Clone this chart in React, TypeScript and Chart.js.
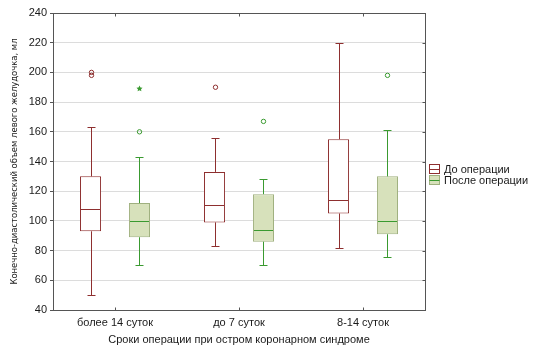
import React, { useEffect, useRef } from "react";
import { Chart, registerables } from "chart.js";

Chart.register(...registerables);

const categories = ["более 14 суток", "до 7 суток", "8-14 суток"];
const seriesNames = ["До операции", "После операции"];

const beforeMin = [50, 83, 82];
const beforeQ1 = [93, 99, 105];
const beforeMedian = [108, 111, 114];
const beforeQ3 = [130, 133, 155];
const beforeMax = [163, 156, 220];
const beforeOutliers = [[198, 200], [190], []];
const beforeExtremes: number[][] = [[], [], []];

const afterMin = [70, 70, 76];
const afterQ1 = [89, 86, 91];
const afterMedian = [100, 94, 100];
const afterQ3 = [112, 118, 130];
const afterMax = [143, 128, 161];
const afterOutliers = [[160], [167], [198]];
const afterExtremes = [[189], [], []];

const yTicks = [40, 60, 80, 100, 120, 140, 160, 180, 200, 220, 240];

const FONT = "'Liberation Sans', Arial, sans-serif";
const NARROW = "'DejaVu Sans Condensed', 'Liberation Sans', sans-serif";
const BEFORE_LINE = "#8e2f2f";
const AFTER_LINE = "#3a9a30";
const AFTER_FILL = "#d7e1bb";
const AFTER_BORDER = "#9fb07f";
const AXIS = "#555555";

const stats = [
  { min: beforeMin, med: beforeMedian, max: beforeMax, out: beforeOutliers, ext: beforeExtremes, line: BEFORE_LINE },
  { min: afterMin, med: afterMedian, max: afterMax, out: afterOutliers, ext: afterExtremes, line: AFTER_LINE },
];

const boxPlugin = {
  id: "boxExtras",
  afterDatasetsDraw(chart: any) {
    const ctx = chart.ctx;
    const y = chart.scales.y;
    ctx.save();
    stats.forEach((s, di) => {
      const meta = chart.getDatasetMeta(di);
      meta.data.forEach((bar: any, j: number) => {
        const x = Math.round(bar.x) + 0.5;
        const half = bar.width / 2;
        const q1 = chart.data.datasets[di].data[j][0];
        const q3 = chart.data.datasets[di].data[j][1];
        ctx.strokeStyle = s.line;
        ctx.lineWidth = 1;
        const cap = 4;
        const yMax = Math.round(y.getPixelForValue(s.max[j])) + 0.5;
        const yMin = Math.round(y.getPixelForValue(s.min[j])) + 0.5;
        ctx.beginPath();
        ctx.moveTo(x, y.getPixelForValue(q3));
        ctx.lineTo(x, yMax);
        ctx.moveTo(x - cap, yMax);
        ctx.lineTo(x + cap, yMax);
        ctx.moveTo(x, y.getPixelForValue(q1));
        ctx.lineTo(x, yMin);
        ctx.moveTo(x - cap, yMin);
        ctx.lineTo(x + cap, yMin);
        ctx.stroke();
        const yMed = Math.round(y.getPixelForValue(s.med[j])) + 0.5;
        ctx.beginPath();
        ctx.moveTo(bar.x - half + 1, yMed);
        ctx.lineTo(bar.x + half - 1, yMed);
        ctx.stroke();
        s.out[j].forEach((v: number) => {
          ctx.beginPath();
          ctx.arc(x, y.getPixelForValue(v), 2.2, 0, Math.PI * 2);
          ctx.stroke();
        });
        s.ext[j].forEach((v: number) => {
          const yy = y.getPixelForValue(v);
          ctx.fillStyle = s.line;
          ctx.beginPath();
          for (let k = 0; k < 10; k++) {
            const r = k % 2 === 0 ? 3.2 : 1.6;
            const a = -Math.PI / 2 + (k * Math.PI) / 5;
            const px = x + r * Math.cos(a);
            const py = yy + r * Math.sin(a);
            if (k === 0) ctx.moveTo(px, py);
            else ctx.lineTo(px, py);
          }
          ctx.closePath();
          ctx.fill();
        });
      });
    });
    ctx.restore();
  },
  afterDraw(chart: any) {
    const ctx = chart.ctx;
    const a = chart.chartArea;
    const x = chart.scales.x;
    const y = chart.scales.y;
    ctx.save();
    ctx.strokeStyle = AXIS;
    ctx.lineWidth = 1;
    const l = Math.round(a.left) + 0.5;
    const r = Math.round(a.right) + 0.5;
    const t = Math.round(a.top) + 0.5;
    const b = Math.round(a.bottom) + 0.5;
    ctx.strokeRect(l, t, r - l, b - t);
    ctx.beginPath();
    categories.forEach((_, i) => {
      const px = Math.round(x.getPixelForValue(i)) + 0.5;
      ctx.moveTo(px, t);
      ctx.lineTo(px, t + 3);
      ctx.moveTo(px, b);
      ctx.lineTo(px, b - 3);
    });
    yTicks.forEach((v) => {
      const py = Math.round(y.getPixelForValue(v)) + 0.5;
      ctx.moveTo(r, py);
      ctx.lineTo(r - 3, py);
    });
    ctx.stroke();

    const lx = a.right + 4;
    const rows = [
      { y: 169, line: BEFORE_LINE, fill: "#ffffff", border: BEFORE_LINE },
      { y: 180, line: AFTER_LINE, fill: AFTER_FILL, border: AFTER_BORDER },
    ];
    ctx.font = `11px ${FONT}`;
    ctx.textBaseline = "middle";
    ctx.textAlign = "left";
    rows.forEach((row, i) => {
      const bx = Math.round(lx) + 0.5;
      const by = row.y - 4.5;
      ctx.fillStyle = row.fill;
      ctx.fillRect(bx, by, 10, 9);
      ctx.strokeStyle = row.border;
      ctx.strokeRect(bx, by, 10, 9);
      ctx.strokeStyle = row.line;
      ctx.beginPath();
      ctx.moveTo(bx, row.y + 0.5);
      ctx.lineTo(bx + 10, row.y + 0.5);
      ctx.stroke();
      ctx.fillStyle = "#1a1a1a";
      ctx.fillText(seriesNames[i], lx + 15, row.y + 1);
    });
    ctx.restore();
  },
};

export default function App() {
  const ref = useRef<HTMLCanvasElement | null>(null);
  useEffect(() => {
    document.body.style.margin = "0";
    const canvas = ref.current;
    if (!canvas) return;
    const chart = new Chart(canvas, {
      type: "bar",
      data: {
        labels: categories,
        datasets: [
          {
            label: seriesNames[0],
            data: beforeQ1.map((v, i) => [v, beforeQ3[i]]) as any,
            backgroundColor: "#ffffff",
            borderColor: BEFORE_LINE,
            borderWidth: 1,
            borderSkipped: false,
          },
          {
            label: seriesNames[1],
            data: afterQ1.map((v, i) => [v, afterQ3[i]]) as any,
            backgroundColor: AFTER_FILL,
            borderColor: AFTER_BORDER,
            borderWidth: 1,
            borderSkipped: false,
          },
        ],
      },
      options: {
        responsive: false,
        animation: false,
        events: [],
        datasets: { bar: { categoryPercentage: 0.79, barPercentage: 0.43 } } as any,
        layout: { padding: { left: 0, right: 114, top: 13, bottom: 0 } },
        plugins: {
          legend: { display: false },
          tooltip: { enabled: false },
        },
        scales: {
          x: {
            grid: { display: false, drawTicks: false },
            border: { display: false },
            ticks: { color: "#1a1a1a", font: { family: FONT, size: 11 }, padding: 6 },
            title: {
              display: true,
              text: "Сроки операции при остром коронарном синдроме",
              color: "#1a1a1a",
              font: { family: FONT, size: 11 },
              padding: { top: 2, bottom: 4 },
            },
            afterFit(scale: any) {
              scale.height = 41;
            },
          },
          y: {
            min: 40,
            max: 240,
            afterBuildTicks(scale: any) {
              scale.ticks = yTicks.map((v) => ({ value: v }));
            },
            grid: { color: "#dcdcdc", tickColor: AXIS, tickLength: 3 },
            border: { color: AXIS },
            ticks: { color: "#1a1a1a", font: { family: FONT, size: 11 }, padding: 3 },
            title: {
              display: true,
              text: "Конечно-диастолический объем левого желудочка, мл",
              color: "#1a1a1a",
              font: { family: NARROW, size: 9.4 },
              padding: { top: 9, bottom: 0 },
            },
            afterFit(scale: any) {
              scale.width = 53;
            },
          },
        },
      },
      plugins: [boxPlugin],
    });
    return () => chart.destroy();
  }, []);
  return (
    <div style={{ width: 539, height: 351 }}>
      <canvas ref={ref} width={539} height={351} />
    </div>
  );
}
